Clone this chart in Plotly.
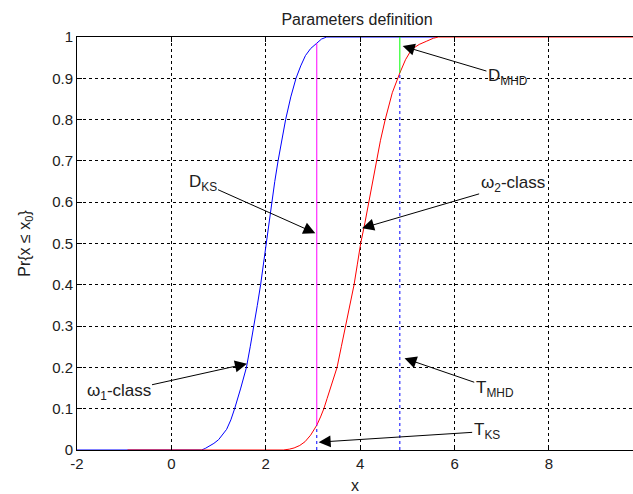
import plotly.graph_objects as go

# omega_1 class CDF
blue_x = [-2, 0.64, 0.72, 0.81, 0.9, 1.0, 1.08, 1.17, 1.26, 1.34, 1.47, 1.59, 1.67, 1.75, 1.82, 1.89,
          1.95, 2.01, 2.07, 2.12, 2.19, 2.26, 2.34, 2.42, 2.53, 2.64, 2.74, 2.84, 2.95, 3.07, 3.18, 3.29, 5.6]
blue_y = [0, 0, 0.004, 0.01, 0.016, 0.025, 0.036, 0.05, 0.073, 0.10, 0.15, 0.20, 0.25, 0.30, 0.35, 0.40,
          0.45, 0.50, 0.55, 0.60, 0.65, 0.70, 0.75, 0.80, 0.855, 0.90, 0.93, 0.955, 0.972, 0.985, 0.995, 1, 1]

# omega_2 class CDF
red_x = [-0.93, 2.37, 2.5, 2.6, 2.72, 2.83, 2.95, 3.08, 3.16, 3.23, 3.3, 3.37, 3.44, 3.51, 3.6, 3.69,
         3.78, 3.87, 3.94, 4.01, 4.1, 4.18, 4.26, 4.34, 4.43, 4.53, 4.68, 4.84, 4.96, 5.09, 5.25, 5.41,
         5.55, 5.66, 10]
red_y = [0, 0, 0.002, 0.005, 0.011, 0.02, 0.036, 0.06, 0.08, 0.10, 0.125, 0.15, 0.175, 0.20, 0.25, 0.30,
         0.35, 0.40, 0.45, 0.50, 0.55, 0.60, 0.65, 0.70, 0.75, 0.80, 0.865, 0.913, 0.945, 0.97, 0.982, 0.99,
         0.997, 1, 1]

# thresholds and distances
t_ks = 3.08
t_mhd = 4.84
d_ks_low, d_ks_high = 0.06, 0.985
d_mhd_low, d_mhd_high = 0.913, 1.0

x_ticks = [-2, 0, 2, 4, 6, 8]
y_ticks = [0, 0.1, 0.2, 0.3, 0.4, 0.5, 0.6, 0.7, 0.8, 0.9, 1]
y_tick_text = ["0", "0.1", "0.2", "0.3", "0.4", "0.5", "0.6", "0.7", "0.8", "0.9", "1"]

FONT = "Liberation Sans, Arial, sans-serif"
TXT = "#202020"

fig = go.Figure()
fig.add_trace(go.Scatter(x=blue_x, y=blue_y, mode="lines", line=dict(color="#0000ff", width=1)))
fig.add_trace(go.Scatter(x=red_x, y=red_y, mode="lines", line=dict(color="#ff0000", width=1)))
fig.add_trace(go.Scatter(x=[t_ks, t_ks], y=[0, d_ks_low], mode="lines",
                         line=dict(color="#0000ff", width=1, dash="3px,3px")))
fig.add_trace(go.Scatter(x=[t_ks, t_ks], y=[d_ks_low, d_ks_high], mode="lines",
                         line=dict(color="#ff00ff", width=1)))
fig.add_trace(go.Scatter(x=[t_mhd, t_mhd], y=[0, d_mhd_low], mode="lines",
                         line=dict(color="#0000ff", width=1, dash="3px,3px")))
fig.add_trace(go.Scatter(x=[t_mhd, t_mhd], y=[d_mhd_low, d_mhd_high], mode="lines",
                         line=dict(color="#00ff00", width=1)))

def ann(text, hx, hy, tx, ty):
    return dict(x=hx, y=hy, ax=tx, ay=ty, xref="x", yref="y", axref="x", ayref="y",
                text=text, showarrow=True, arrowhead=2, arrowsize=2.4, arrowwidth=1,
                arrowcolor="black", standoff=0, startstandoff=0,
                font=dict(family=FONT, size=17, color=TXT))

annotations = [
    ann("D<sub>KS</sub>", 3.05, 0.525, 0.66, 0.647),
    ann("ω<sub>2</sub>-class", 4.04, 0.537, 7.23, 0.644),
    ann("D<sub>MHD</sub>", 4.9, 0.978, 7.13, 0.902),
    ann("ω<sub>1</sub>-class", 1.6, 0.209, -1.12, 0.14),
    ann("T<sub>MHD</sub>", 4.94, 0.222, 6.85, 0.147),
    ann("T<sub>KS</sub>", 3.12, 0.019, 6.68, 0.045),
]

fig.update_layout(
    width=633, height=494,
    margin=dict(l=77, r=0, t=37, b=44),
    paper_bgcolor="white", plot_bgcolor="white",
    showlegend=False,
    font=dict(family=FONT, size=15, color=TXT),
    title=dict(text="Parameters definition", xref="container", x=357/633, xanchor="center",
               yref="container", y=1 - 19/494, yanchor="middle",
               font=dict(family=FONT, size=16, color=TXT)),
    annotations=annotations,
    xaxis=dict(range=[-2, 9.78], tickvals=x_ticks, ticktext=[str(v) for v in x_ticks],
               showline=True, linecolor="black", linewidth=1, mirror="ticks",
               ticks="inside", ticklen=5, tickcolor="black",
               showgrid=True, gridcolor="black", griddash="3px,3px", gridwidth=1,
               zeroline=False, title=dict(text="x", standoff=8, font=dict(size=16)),
               fixedrange=True),
    yaxis=dict(range=[0, 1], tickvals=y_ticks, ticktext=y_tick_text,
               showline=True, linecolor="black", linewidth=1, mirror=False,
               ticks="inside", ticklen=5, tickcolor="black",
               showgrid=True, gridcolor="black", griddash="3px,3px", gridwidth=1,
               zeroline=False, title=dict(text="Pr{x ≤ x<sub>0</sub>}", standoff=17, font=dict(size=16)),
               fixedrange=True),
)

fig.write_html("out.html")
